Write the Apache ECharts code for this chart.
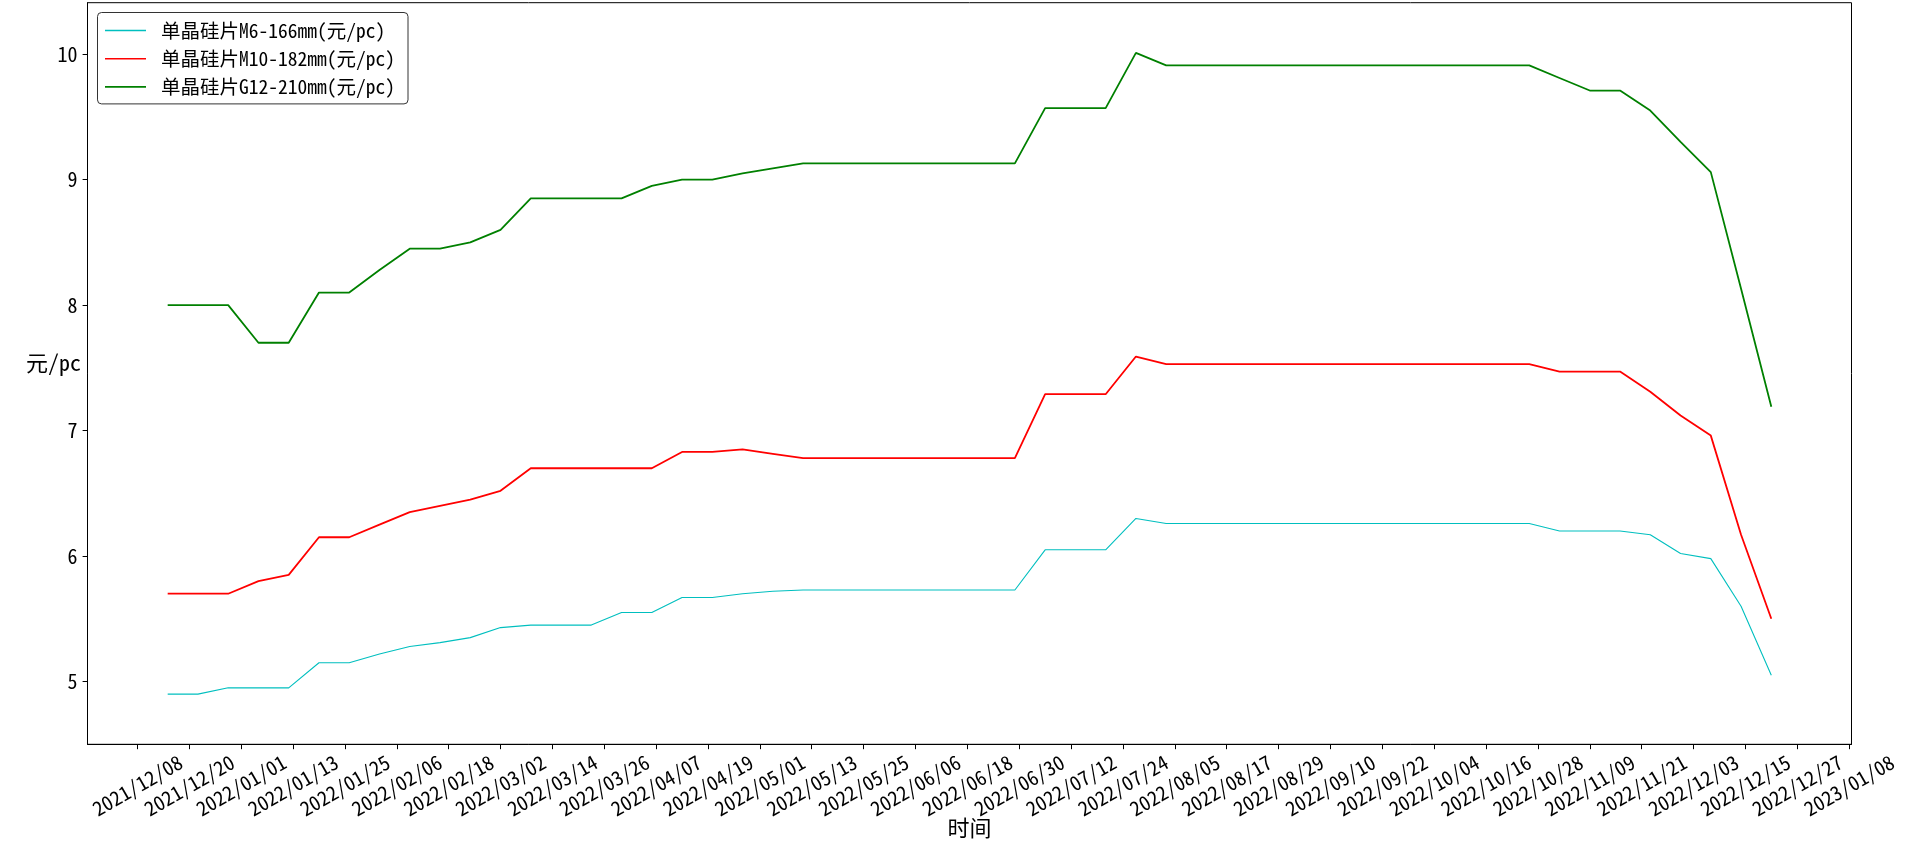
<!DOCTYPE html>
<html>
<head>
<meta charset="utf-8">
<script src="https://cdn.jsdelivr.net/npm/echarts@6/dist/echarts.min.js"></script>
<style>
html,body{margin:0;padding:0;background:#fff;}
#c{width:1918px;height:847px;}
</style>
</head>
<body>
<div id="c"></div>
<script>
// weekly observation dates
const dates = [
  '2021/12/15','2021/12/22','2021/12/29',
  '2022/01/05','2022/01/12','2022/01/19','2022/01/26',
  '2022/02/02','2022/02/09','2022/02/16','2022/02/23',
  '2022/03/02','2022/03/09','2022/03/16','2022/03/23','2022/03/30',
  '2022/04/06','2022/04/13','2022/04/20','2022/04/27',
  '2022/05/04','2022/05/11','2022/05/18','2022/05/25',
  '2022/06/01','2022/06/08','2022/06/15','2022/06/22','2022/06/29',
  '2022/07/06','2022/07/13','2022/07/20','2022/07/27',
  '2022/08/03','2022/08/10','2022/08/17','2022/08/24','2022/08/31',
  '2022/09/07','2022/09/14','2022/09/21','2022/09/28',
  '2022/10/05','2022/10/12','2022/10/19','2022/10/26',
  '2022/11/02','2022/11/09','2022/11/16','2022/11/23','2022/11/30',
  '2022/12/07','2022/12/14','2022/12/21'
];
// 单晶硅片M6-166mm
const m6 = [
  4.90,4.90,4.95,4.95,4.95,5.15,5.15,5.22,5.28,5.31,
  5.35,5.43,5.45,5.45,5.45,5.55,5.55,5.67,5.67,5.70,
  5.72,5.73,5.73,5.73,5.73,5.73,5.73,5.73,5.73,6.05,
  6.05,6.05,6.30,6.26,6.26,6.26,6.26,6.26,6.26,6.26,
  6.26,6.26,6.26,6.26,6.26,6.26,6.20,6.20,6.20,6.17,
  6.02,5.98,5.60,5.05
];
// 单晶硅片M10-182mm
const m10 = [
  5.70,5.70,5.70,5.80,5.85,6.15,6.15,6.25,6.35,6.40,
  6.45,6.52,6.70,6.70,6.70,6.70,6.70,6.83,6.83,6.85,
  6.815,6.78,6.78,6.78,6.78,6.78,6.78,6.78,6.78,7.29,
  7.29,7.29,7.59,7.53,7.53,7.53,7.53,7.53,7.53,7.53,
  7.53,7.53,7.53,7.53,7.53,7.53,7.47,7.47,7.47,7.31,
  7.12,6.96,6.17,5.50
];
// 单晶硅片G12-210mm
const g12 = [
  8.00,8.00,8.00,7.70,7.70,8.10,8.10,8.28,8.45,8.45,
  8.50,8.60,8.85,8.85,8.85,8.85,8.95,9.00,9.00,9.05,
  9.09,9.13,9.13,9.13,9.13,9.13,9.13,9.13,9.13,9.57,
  9.57,9.57,10.01,9.91,9.91,9.91,9.91,9.91,9.91,9.91,
  9.91,9.91,9.91,9.91,9.91,9.91,9.81,9.71,9.71,9.55,
  9.30,9.06,8.13,7.19
];
const seriesNames = ['单晶硅片M6-166mm(元/pc)','单晶硅片M10-182mm(元/pc)','单晶硅片G12-210mm(元/pc)'];
const xTickLabels = [
  '2021/12/08','2021/12/20','2022/01/01','2022/01/13','2022/01/25','2022/02/06',
  '2022/02/18','2022/03/02','2022/03/14','2022/03/26','2022/04/07','2022/04/19',
  '2022/05/01','2022/05/13','2022/05/25','2022/06/06','2022/06/18','2022/06/30',
  '2022/07/12','2022/07/24','2022/08/05','2022/08/17','2022/08/29','2022/09/10',
  '2022/09/22','2022/10/04','2022/10/16','2022/10/28','2022/11/09','2022/11/21',
  '2022/12/03','2022/12/15','2022/12/27','2023/01/08'
];
const yTicks = [5,6,7,8,9,10];

function toDay(s){ const p = s.split('/').map(Number); return Date.UTC(p[0],p[1]-1,p[2])/86400000; }
function fmtDay(v){
  const d = new Date(Math.round(v)*86400000);
  const mm = String(d.getUTCMonth()+1).padStart(2,'0');
  const dd = String(d.getUTCDate()).padStart(2,'0');
  return d.getUTCFullYear()+'/'+mm+'/'+dd;
}
const xs = dates.map(toDay);
const xTickVals = xTickLabels.map(toDay);
const span = xs[xs.length-1]-xs[0];
const xMin = xs[0]-0.05*span, xMax = xs[xs.length-1]+0.05*span;

const F = "'Noto Sans Mono CJK SC','Noto Sans CJK SC',monospace";
const colors = ['#00BFBF','#FF0000','#008000'];
const widths = [1.1,1.8,1.8];
const vals = [m6,m10,g12];

const chart = echarts.init(document.getElementById('c'), null, {renderer:'canvas'});
chart.setOption({
  animation:false,
  backgroundColor:'#fff',
  grid:{left:87.5,right:66.5,top:2.7,bottom:102.7,show:true,borderColor:'#000',borderWidth:1,containLabel:false},
  legend:{
    orient:'vertical',left:97.5,top:12.5,
    padding:[8,13,7,7.5],
    icon:'rect',
    itemWidth:41,itemHeight:1.6,itemGap:8.2,
    backgroundColor:'rgba(255,255,255,0.8)',borderColor:'#333',borderWidth:1,borderRadius:4,
    textStyle:{fontFamily:F,fontSize:19.5,color:'#000',padding:[0,0,0,10],lineHeight:20},
    data:seriesNames
  },
  xAxis:{
    type:'value',min:xMin,max:xMax,
    name:'时间',nameLocation:'middle',nameGap:72,nameMoveOverlap:false,
    nameTextStyle:{fontFamily:F,fontSize:22,color:'#000',verticalAlign:'top'},
    axisLine:{show:true,lineStyle:{color:'#000',width:1}},
    axisTick:{show:true,inside:false,length:4.9,lineStyle:{color:'#000',width:1},customValues:xTickVals},
    axisLabel:{show:true,rotate:30,align:'center',verticalAlign:'middle',margin:41,
      fontFamily:F,fontSize:20,color:'#000',customValues:xTickVals,formatter:fmtDay},
    splitLine:{show:false}
  },
  yAxis:{
    type:'value',min:4.5,max:10.41,
    name:'元/pc',nameLocation:'middle',nameRotate:0,nameGap:6.5,nameMoveOverlap:false,
    nameTextStyle:{fontFamily:F,fontSize:22,color:'#000',align:'right',verticalAlign:'bottom'},
    axisLine:{show:true,lineStyle:{color:'#000',width:1}},
    axisTick:{show:true,inside:false,length:4.9,lineStyle:{color:'#000',width:1},customValues:yTicks},
    axisLabel:{show:true,margin:10,fontFamily:F,fontSize:20,color:'#000',customValues:yTicks},
    splitLine:{show:false}
  },
  series:seriesNames.map((n,i)=>({
    name:n,type:'line',symbol:'none',showSymbol:false,
    data:xs.map((x,j)=>[x,vals[i][j]]),
    lineStyle:{color:colors[i],width:widths[i]},
    itemStyle:{color:colors[i]},
    z:2+i
  }))
});
</script>
</body>
</html>
